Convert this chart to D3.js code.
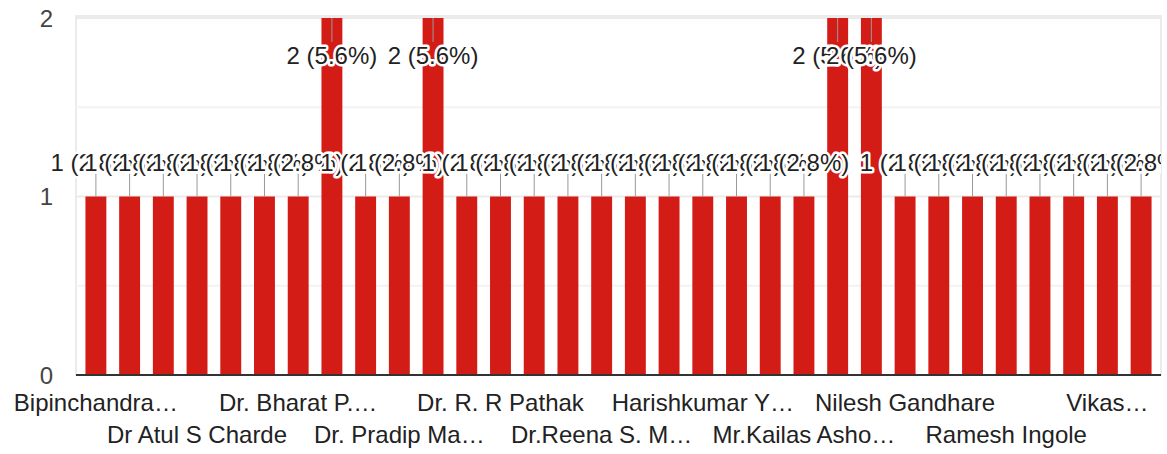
<!DOCTYPE html>
<html>
<head>
<meta charset="utf-8">
<script src="https://cdn.jsdelivr.net/npm/d3@7"></script>
<style>
  body { margin: 0; background: #fff; }
  svg { display: block; font-family: Arial, "Liberation Sans", sans-serif; }
</style>
</head>
<body>
<svg id="chart" width="1167" height="454"></svg>
<script>
// respondents per name (32 bars, total 36). only every 3rd label is printed on the axis
let names = [
  'Bipinchandra…', null, null, 'Dr Atul S Charde', null, null,
  'Dr. Bharat P.…', null, null, 'Dr. Pradip Ma…', null, null,
  'Dr. R. R Pathak', null, null, 'Dr.Reena S. M…', null, null,
  'Harishkumar Y…', null, null, 'Mr.Kailas Asho…', null, null,
  'Nilesh Gandhare', null, null, 'Ramesh Ingole', null, null,
  'Vikas…', null
];
let counts = [
  1, 1, 1, 1, 1, 1, 1, 2, 1, 1, 2, 1, 1, 1, 1, 1,
  1, 1, 1, 1, 1, 1, 2, 2, 1, 1, 1, 1, 1, 1, 1, 1
];
let yTicks = [0, 1, 2];
let yMinor = [0.5, 1.5];

let total = d3.sum(counts);
let svg = d3.select('#chart');

let plotLeft = 76, plotRight = 1161, plotTop = 18, plotBottom = 375;

let x = d3.scaleBand()
  .domain(d3.range(counts.length))
  .range([plotLeft, plotRight])
  .paddingInner(0.38)
  .paddingOuter(0.28);

let y = d3.scaleLinear().domain([0, 2]).range([plotBottom, plotTop]);

// frame + gridlines
svg.append('rect')
  .attr('x', plotLeft).attr('y', plotTop - 2)
  .attr('width', plotRight - plotLeft).attr('height', plotBottom - plotTop + 2)
  .attr('fill', 'none').attr('stroke', '#ebebeb').attr('stroke-width', 2);

svg.selectAll('.minor')
  .data(yMinor)
  .enter()
  .append('line')
  .attr('x1', plotLeft).attr('x2', plotRight)
  .attr('y1', d => y(d)).attr('y2', d => y(d))
  .attr('stroke', '#f3f3f3').attr('stroke-width', 2);

svg.selectAll('.grid')
  .data(yTicks)
  .enter()
  .append('line')
  .attr('x1', plotLeft).attr('x2', plotRight)
  .attr('y1', d => y(d)).attr('y2', d => y(d))
  .attr('stroke', '#ebebeb').attr('stroke-width', 2);

svg.selectAll('.ytick')
  .data(yTicks)
  .enter()
  .append('text')
  .attr('x', 53)
  .attr('y', d => y(d))
  .attr('dy', '0.36em')
  .attr('text-anchor', 'end')
  .attr('font-size', 24)
  .attr('fill', '#444')
  .text(d => d);

// bars
svg.selectAll('.bar')
  .data(counts)
  .enter()
  .append('rect')
  .attr('x', (d, i) => x(i))
  .attr('y', d => y(d))
  .attr('width', x.bandwidth())
  .attr('height', d => plotBottom - y(d))
  .attr('fill', '#d41c17');

// baseline
svg.append('line')
  .attr('x1', plotLeft).attr('x2', plotRight)
  .attr('y1', plotBottom).attr('y2', plotBottom)
  .attr('stroke', '#333').attr('stroke-width', 2);

// x labels, every third, in two rows
let shown = d3.range(counts.length).filter(i => i % 3 === 0 && names[i]);
svg.selectAll('.xlab')
  .data(shown)
  .enter()
  .append('text')
  .attr('x', i => x(i) + x.bandwidth() / 2)
  .attr('y', (i, k) => k % 2 === 0 ? 411 : 443)
  .attr('text-anchor', 'middle')
  .attr('font-size', 24)
  .attr('fill', '#222')
  .text(i => names[i]);

// annotations
svg.append('clipPath').attr('id', 'plotclip')
  .append('rect').attr('x', 0).attr('y', 0).attr('width', plotRight).attr('height', plotBottom);

let ann = svg.append('g').attr('clip-path', 'url(#plotclip)');
let atTop = d => y(d) <= plotTop + 1;

ann.selectAll('.lead')
  .data(counts)
  .enter()
  .append('line')
  .attr('x1', (d, i) => x(i) + x.bandwidth() / 2)
  .attr('x2', (d, i) => x(i) + x.bandwidth() / 2)
  .attr('y1', d => y(d))
  .attr('y2', d => atTop(d) ? y(d) + 24 : y(d) - 24)
  .attr('stroke', '#999').attr('stroke-width', 1);

ann.selectAll('.lab')
  .data(counts)
  .enter()
  .append('text')
  .attr('x', (d, i) => x(i) + x.bandwidth() / 2)
  .attr('y', d => atTop(d) ? y(d) + 46 : y(d) - 26)
  .attr('text-anchor', 'middle')
  .attr('font-size', 24)
  .attr('fill', '#222')
  .attr('stroke', '#fff')
  .attr('stroke-width', 5)
  .attr('stroke-linejoin', 'round')
  .attr('paint-order', 'stroke')
  .text(d => d + ' (' + (d / total * 100).toFixed(1) + '%)');
</script>
</body>
</html>
